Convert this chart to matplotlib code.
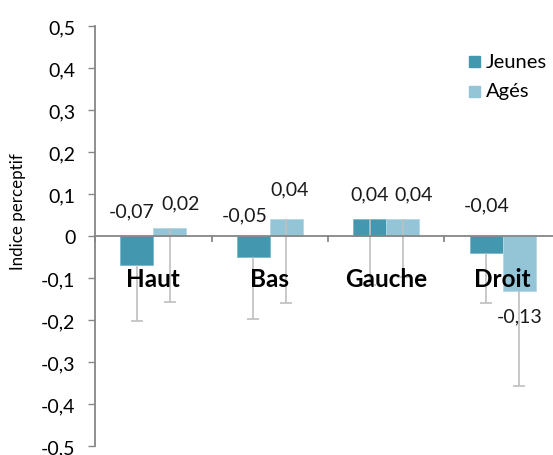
import matplotlib
matplotlib.use("Agg")
import matplotlib.pyplot as plt
import numpy as np

plt.rcParams['font.family'] = ['Lato', 'DejaVu Sans']

categories = ['Haut', 'Bas', 'Gauche', 'Droit']
jeunes = [-0.07, -0.05, 0.04, -0.04]
ages = [0.02, 0.04, 0.04, -0.13]
# lower error only (error bars go downward)
jeunes_err = [0.133, 0.147, 0.156, 0.12]
ages_err = [0.176, 0.2, 0.137, 0.226]
yticks = [0.5, 0.4, 0.3, 0.2, 0.1, 0, -0.1, -0.2, -0.3, -0.4, -0.5]
ytick_labels = ['0,5', '0,4', '0,3', '0,2', '0,1', '0', '-0,1', '-0,2', '-0,3', '-0,4', '-0,5']

c_j = '#4397AE'
c_a = '#93C5D7'
grey = '#868686'
err_c = '#BFBFBF'

fig = plt.figure(figsize=(5.53, 4.56), dpi=100)
ax = fig.add_axes([95/553, 9/456, 466/553, 420/456])

x = np.arange(len(categories))
w = 0.285

bj = ax.bar(x - w/2, jeunes, w, color=c_j, edgecolor='#7DB8C9', linewidth=0.6, zorder=2)
ba = ax.bar(x + w/2, ages, w, color=c_a, edgecolor='#B5D8E4', linewidth=0.6, zorder=2)

for xs, vals, errs in [(x - w/2, jeunes, jeunes_err), (x + w/2, ages, ages_err)]:
    eb = ax.errorbar(xs, vals, yerr=[errs, np.zeros(len(errs))], fmt='none',
                     ecolor=err_c, elinewidth=1.2, capsize=4.5, capthick=1.2, zorder=3)
    caps = eb[1]
    if len(caps) > 1:
        caps[1].set_visible(False)

# value labels
lab_j_dx = [-0.04, -0.07, 0.0, 0.0]
lab_j_y = [0.059, 0.05, 0.10, 0.075]
lab_a_dx = [0.09, 0.03, 0.09, 0.0]
lab_a_y = [0.08, 0.113, 0.10, -0.19]
for i in range(len(categories)):
    ax.text(x[i] - w/2 + lab_j_dx[i], lab_j_y[i], ('%.2f' % jeunes[i]).replace('.', ','),
            ha='center', va='center', fontsize=14, color='#1a1a1a', zorder=5)
    ax.text(x[i] + w/2 + lab_a_dx[i], lab_a_y[i], ('%.2f' % ages[i]).replace('.', ','),
            ha='center', va='center', fontsize=14, color='#1a1a1a', zorder=5)
    ax.text(x[i], -0.101, categories[i], ha='center', va='center', fontsize=17.5,
            fontweight='bold', color='black', zorder=5)

ax.set_xlim(-0.5, len(categories) - 0.5)
ax.set_ylim(-0.5, 0.5)
ax.set_yticks(yticks)
ax.set_yticklabels(ytick_labels, fontsize=14)
ax.tick_params(axis='y', direction='out', length=5, color=grey, width=1, pad=9)

ax.set_xticks([])
ax.axhline(0, color=grey, lw=1.3, zorder=4)
for b in np.arange(-0.5, len(categories), 1.0):
    ax.plot([b, b], [0, -0.012], color=grey, lw=1.3, zorder=4, clip_on=False)

for s in ['top', 'right', 'bottom']:
    ax.spines[s].set_visible(False)
ax.spines['left'].set_color(grey)
ax.spines['left'].set_linewidth(1.3)
ax.patch.set_alpha(0)

fig.text(18/553, 1 - 212/456, 'Indice perceptif', rotation=90, ha='center', va='center', fontsize=12.2)

# legend
fig.patches.append(plt.Rectangle((469/553, 1 - 68/456), 11/553, 11/456, transform=fig.transFigure,
                                 color=c_j, figure=fig))
fig.patches.append(plt.Rectangle((469/553, 1 - 98/456), 11/553, 11/456, transform=fig.transFigure,
                                 color=c_a, figure=fig))
fig.text(486/553, 1 - 62/456, 'Jeunes', ha='left', va='center', fontsize=14.5)
fig.text(486/553, 1 - 92/456, 'Agés', ha='left', va='center', fontsize=14.5)

fig.savefig('out.png', dpi=100)
